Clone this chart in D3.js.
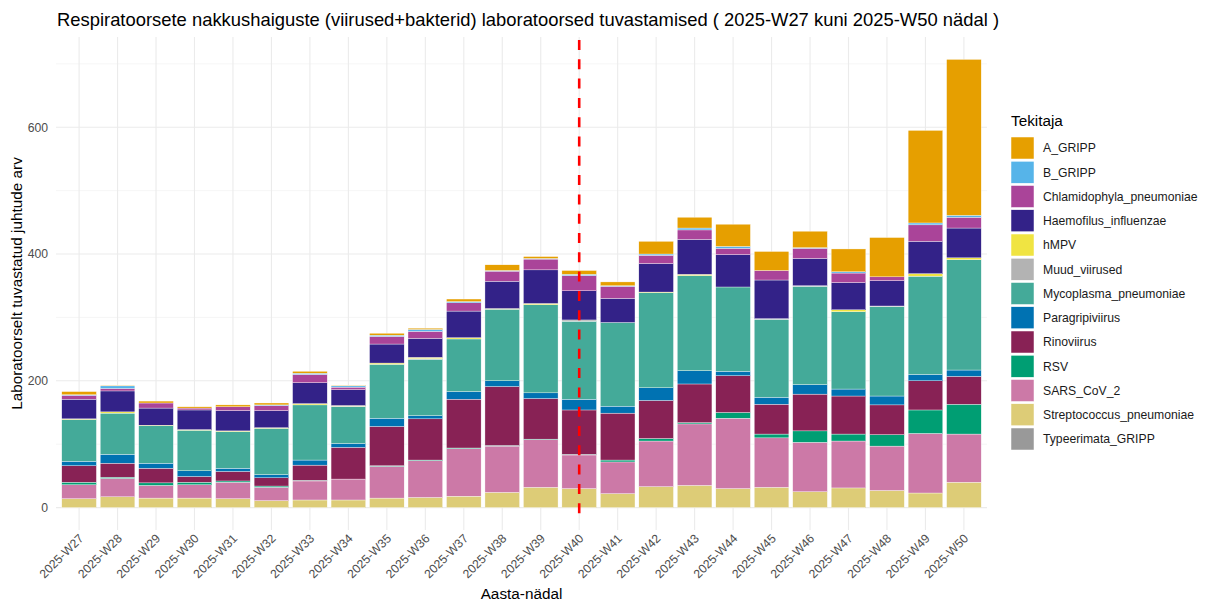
<!DOCTYPE html>
<html>
<head>
<meta charset="utf-8">
<script src="https://cdn.jsdelivr.net/npm/d3@7"></script>
<style>
  body { margin: 0; background: #fff; }
  text { font-family: "Liberation Sans", Arial, sans-serif; }
</style>
</head>
<body>
<div id="chart"></div>
<script>
// Week labels on the x axis.
const weeks = ["2025-W27", "2025-W28", "2025-W29", "2025-W30", "2025-W31", "2025-W32",
    "2025-W33", "2025-W34", "2025-W35", "2025-W36", "2025-W37", "2025-W38",
    "2025-W39", "2025-W40", "2025-W41", "2025-W42", "2025-W43", "2025-W44",
    "2025-W45", "2025-W46", "2025-W47", "2025-W48", "2025-W49", "2025-W50"];

// Pathogen names (legend order).
const pathogens = ["A_GRIPP", "B_GRIPP", "Chlamidophyla_pneumoniae", "Haemofilus_influenzae",
    "hMPV", "Muud_viirused", "Mycoplasma_pneumoniae", "Paragripiviirus", "Rinoviirus",
    "RSV", "SARS_CoV_2", "Streptococcus_pneumoniae", "Typeerimata_GRIPP"];

// Weekly counts per pathogen.
const aGripp = [5, 1, 3, 2, 3, 3, 3, 1, 3, 2, 4, 9, 3, 6, 6, 20, 17, 35, 30, 26, 36, 62, 146, 246];
const bGripp = [1, 4, 0, 0, 0, 1, 2, 2, 2, 3, 2, 1, 1, 2, 1, 2, 3, 3, 0, 1, 2, 0, 3, 3];
const chlamidophyla = [6, 4, 8, 3, 6, 8, 13, 4, 12, 11, 13, 16, 17, 24, 19, 13, 15, 10, 15, 16, 15, 6, 26, 17];
const haemofilus = [31, 33, 27, 31, 32, 27, 33, 25, 30, 30, 42, 43, 53, 46, 38, 45, 55, 51, 61, 43, 43, 40, 51, 47];
const hmpv = [1, 2, 1, 1, 1, 1, 2, 1, 2, 2, 2, 1, 2, 0, 0, 1, 2, 0, 0, 0, 3, 0, 4, 3];
const muudViirused = [0, 0, 0, 0, 0, 0, 0, 1, 0, 1, 0, 0, 0, 2, 0, 0, 0, 0, 1, 1, 0, 1, 0, 0];
const mycoplasma = [66, 65, 59, 64, 58, 73, 87, 58, 85, 89, 83, 113, 139, 123, 132, 150, 150, 133, 123, 155, 122, 141, 155, 174];
const paragripi = [7, 14, 8, 9, 5, 5, 8, 6, 13, 5, 12, 9, 9, 17, 11, 20, 21, 7, 11, 15, 11, 14, 10, 10];
const rinoviirus = [26, 22, 23, 9, 15, 13, 24, 50, 62, 65, 77, 93, 64, 70, 74, 60, 61, 58, 47, 58, 60, 47, 46, 44];
const rsv = [4, 2, 4, 4, 2, 2, 1, 0, 1, 1, 1, 1, 1, 1, 3, 4, 2, 9, 6, 18, 11, 18, 37, 47];
const sarsCov2 = [22, 29, 20, 21, 26, 21, 30, 33, 50, 58, 75, 73, 75, 53, 50, 72, 97, 111, 78, 78, 74, 70, 94, 76];
const streptococcus = [14, 17, 15, 15, 14, 11, 12, 12, 15, 16, 18, 24, 32, 30, 22, 33, 35, 30, 32, 25, 31, 27, 23, 40];
const typeerimata = [0, 0, 0, 0, 0, 0, 0, 0, 0, 0, 0, 0, 0, 0, 0, 0, 0, 0, 0, 0, 0, 0, 0, 0];

const seriesValues = [aGripp, bGripp, chlamidophyla, haemofilus, hmpv, muudViirused,
    mycoplasma, paragripi, rinoviirus, rsv, sarsCov2, streptococcus, typeerimata];

// Fill colours per pathogen.
const colors = ["#E69F00", "#56B4E9", "#AA4499", "#332288", "#F0E442", "#B3B3B3",
    "#44AA99", "#0072B2", "#882255", "#009E73", "#CC79A7", "#DDCC77", "#999999"];

// Week where the red dashed marker goes.
const markerWeek = "2025-W40";

// Build the row table for d3.stack.
const rows = weeks.map((w, i) => {
    const row = { week: w };
    pathogens.forEach((p, j) => { row[p] = seriesValues[j][i]; });
    return row;
});

const width = 1206;
const height = 603;
const margin = { top: 37, right: 219, bottom: 73, left: 56 };

const svg = d3.select("#chart")
    .append("svg")
    .attr("width", width)
    .attr("height", height);

// First level is drawn on top, so stack in reverse order.
const stackKeys = pathogens.slice().reverse();
const stacked = d3.stack().keys(stackKeys)(rows);

const totals = rows.map(r => d3.sum(pathogens, p => r[p]));
const yMax = d3.max(totals);
const pad = yMax * 0.05;

const x = d3.scaleBand()
    .domain(weeks)
    .range([margin.left, width - margin.right])
    .paddingInner(0.1)
    .paddingOuter(0.15);

const y = d3.scaleLinear()
    .domain([-pad, yMax + pad])
    .range([height - margin.bottom, margin.top]);

const color = d3.scaleOrdinal().domain(pathogens).range(colors);

// Grid lines (minor first, then major).
const minorTicks = d3.range(100, yMax + pad, 200);
svg.append("g")
    .selectAll("line")
    .data(minorTicks)
    .enter()
    .append("line")
    .attr("x1", margin.left)
    .attr("x2", width - margin.right)
    .attr("y1", d => y(d))
    .attr("y2", d => y(d))
    .attr("stroke", "#f2f2f2")
    .attr("stroke-width", 0.7);

const majorTicks = d3.range(0, yMax + pad, 200);
svg.append("g")
    .selectAll("line")
    .data(majorTicks)
    .enter()
    .append("line")
    .attr("x1", margin.left)
    .attr("x2", width - margin.right)
    .attr("y1", d => y(d))
    .attr("y2", d => y(d))
    .attr("stroke", "#ebebeb")
    .attr("stroke-width", 1.1);

svg.append("g")
    .selectAll("line")
    .data(weeks)
    .enter()
    .append("line")
    .attr("x1", d => x(d) + x.bandwidth() / 2)
    .attr("x2", d => x(d) + x.bandwidth() / 2)
    .attr("y1", margin.top)
    .attr("y2", height - margin.bottom)
    .attr("stroke", "#ebebeb")
    .attr("stroke-width", 1.1);

// Stacked bars.
const layers = svg.append("g")
    .selectAll("g")
    .data(stacked)
    .enter()
    .append("g")
    .attr("fill", d => color(d.key));

layers.selectAll("rect")
    .data(d => d)
    .enter()
    .append("rect")
    .attr("x", d => x(d.data.week))
    .attr("y", d => y(d[1]))
    .attr("width", x.bandwidth())
    .attr("height", d => Math.max(0, y(d[0]) - y(d[1])))
    .attr("stroke", "#ffffff")
    .attr("stroke-width", 0.35);

// Red dashed marker line.
svg.append("line")
    .attr("x1", x(markerWeek) + x.bandwidth() / 2)
    .attr("x2", x(markerWeek) + x.bandwidth() / 2)
    .attr("y1", margin.top + 3)
    .attr("y2", height - margin.bottom - 14)
    .attr("stroke", "#ff0000")
    .attr("stroke-width", 2.6)
    .attr("stroke-dasharray", "10,9.3");

// Y axis tick labels.
svg.append("g")
    .selectAll("text")
    .data(majorTicks)
    .enter()
    .append("text")
    .attr("x", margin.left - 8)
    .attr("y", d => y(d))
    .attr("dy", "0.35em")
    .attr("text-anchor", "end")
    .attr("font-size", "12.2px")
    .attr("fill", "#4d4d4d")
    .text(d => d);

// X axis tick labels, rotated 45 degrees.
svg.append("g")
    .selectAll("text")
    .data(weeks)
    .enter()
    .append("text")
    .attr("transform", d => `translate(${x(d) + x.bandwidth() / 2 - 1},${height - margin.bottom + 3}) rotate(-45)`)
    .attr("dy", "0.71em")
    .attr("text-anchor", "end")
    .attr("font-size", "12.2px")
    .attr("fill", "#4d4d4d")
    .text(d => d);

// Axis titles.
svg.append("text")
    .attr("x", (margin.left + width - margin.right) / 2)
    .attr("y", 599)
    .attr("text-anchor", "middle")
    .attr("font-size", "15.3px")
    .attr("fill", "#000")
    .text("Aasta-nädal");

svg.append("text")
    .attr("transform", `translate(22,${(margin.top + height - margin.bottom) / 2}) rotate(-90)`)
    .attr("text-anchor", "middle")
    .attr("font-size", "15.3px")
    .attr("fill", "#000")
    .text("Laboratoorselt tuvastatud juhtude arv");

// Title.
svg.append("text")
    .attr("x", 57)
    .attr("y", 26)
    .attr("font-size", "18.4px")
    .attr("fill", "#000")
    .text("Respiratoorsete nakkushaiguste (viirused+bakterid) laboratoorsed tuvastamised ( 2025-W27 kuni 2025-W50 nädal )");

// Legend.
const legend = svg.append("g").attr("transform", "translate(1011,0)");

legend.append("text")
    .attr("x", 0)
    .attr("y", 126)
    .attr("font-size", "15.3px")
    .attr("fill", "#000")
    .text("Tekitaja");

const legendItems = legend.selectAll(".legend-item")
    .data(pathogens)
    .enter()
    .append("g")
    .attr("class", "legend-item")
    .attr("transform", (d, i) => `translate(0,${137 + i * 24.25})`);

legendItems.append("rect")
    .attr("width", 23)
    .attr("height", 22)
    .attr("fill", d => color(d))
    .attr("stroke", "#ffffff")
    .attr("stroke-width", 0.5);

legendItems.append("text")
    .attr("x", 32)
    .attr("y", 11)
    .attr("dy", "0.35em")
    .attr("font-size", "12.2px")
    .attr("fill", "#1a1a1a")
    .text(d => d);
</script>
</body>
</html>
